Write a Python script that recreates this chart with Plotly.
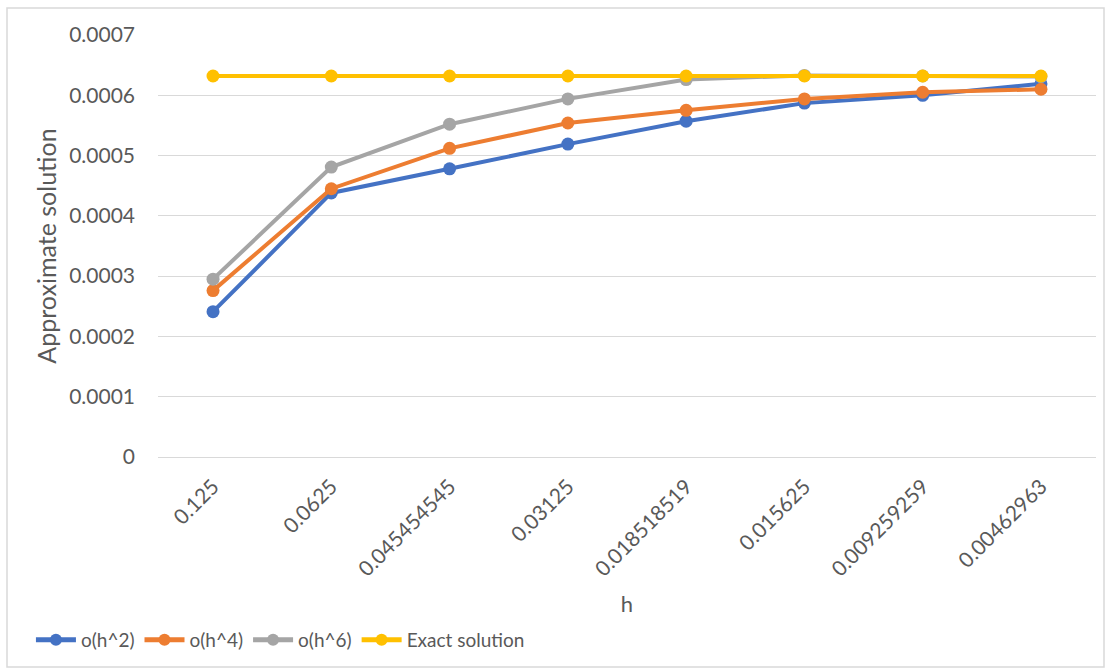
import plotly.graph_objects as go

# Step sizes (category labels on the x axis)
h_labels = ["0.125", "0.0625", "0.045454545", "0.03125",
            "0.018518519", "0.015625", "0.009259259", "0.00462963"]

# Approximate solutions for each scheme order
o_h2 = [0.000241, 0.000438, 0.000478, 0.000519, 0.000557, 0.000587, 0.000600, 0.000619]
o_h4 = [0.000276, 0.000445, 0.000512, 0.000554, 0.000575, 0.000594, 0.000605, 0.000610]
o_h6 = [0.000295, 0.000481, 0.000552, 0.000594, 0.000626, 0.000633, 0.000632, 0.000631]
exact = [0.000632, 0.000632, 0.000632, 0.000632, 0.000632, 0.000632, 0.000632, 0.000632]

y_ticks = [0, 0.0001, 0.0002, 0.0003, 0.0004, 0.0005, 0.0006, 0.0007]
y_tick_text = ["0", "0.0001", "0.0002", "0.0003", "0.0004", "0.0005", "0.0006", "0.0007"]

series = [
    ("o(h^2)", o_h2, "#4472C4"),
    ("o(h^4)", o_h4, "#ED7D31"),
    ("o(h^6)", o_h6, "#A5A5A5"),
    ("Exact solution", exact, "#FFC000"),
]

FONT = "Lato"
TXT = "#595959"

fig = go.Figure()
for name, vals, color in series:
    fig.add_trace(go.Scatter(
        x=h_labels, y=vals, name=name, mode="lines+markers",
        line=dict(color=color, width=4),
        marker=dict(color=color, size=13),
    ))

fig.update_layout(
    width=1105, height=668,
    margin=dict(l=158, r=9, t=35, b=211),
    paper_bgcolor="white", plot_bgcolor="white",
    font=dict(family=FONT, size=20, color=TXT),
    showlegend=True,
    legend=dict(
        orientation="h", xref="container", yref="container",
        x=0.028, y=(668 - 640) / 668, xanchor="left", yanchor="middle",
        font=dict(family=FONT, size=19, color=TXT),
        itemsizing="constant", itemwidth=40, tracegroupgap=0,
    ),
    xaxis=dict(
        type="category", tickangle=-45, showgrid=False, automargin=False,
        showline=True, linecolor="#d9d9d9", linewidth=1,
        ticks="", ticklabelstandoff=8,
        tickfont=dict(family=FONT, size=21, color=TXT),
        title=dict(text="h", font=dict(family=FONT, size=22, color=TXT), standoff=17),
    ),
    yaxis=dict(
        range=[0, 0.0007], tickvals=y_ticks, ticktext=y_tick_text, automargin=False,
        showgrid=True, gridcolor="#d9d9d9", gridwidth=1,
        zeroline=False, ticks="", ticklabelstandoff=22,
        tickfont=dict(family=FONT, size=21, color=TXT),
        title=dict(text="Approximate solution", font=dict(family=FONT, size=25, color=TXT), standoff=5),
    ),
    shapes=[dict(
        type="rect", xref="paper", yref="paper",
        x0=(7 - 158) / 938, x1=(1104 - 158) / 938,
        y0=(457 - 667) / 422, y1=(457 - 8) / 422,
        line=dict(color="#d9d9d9", width=1.5), layer="below",
    )],
)

fig.write_html("out.html")
